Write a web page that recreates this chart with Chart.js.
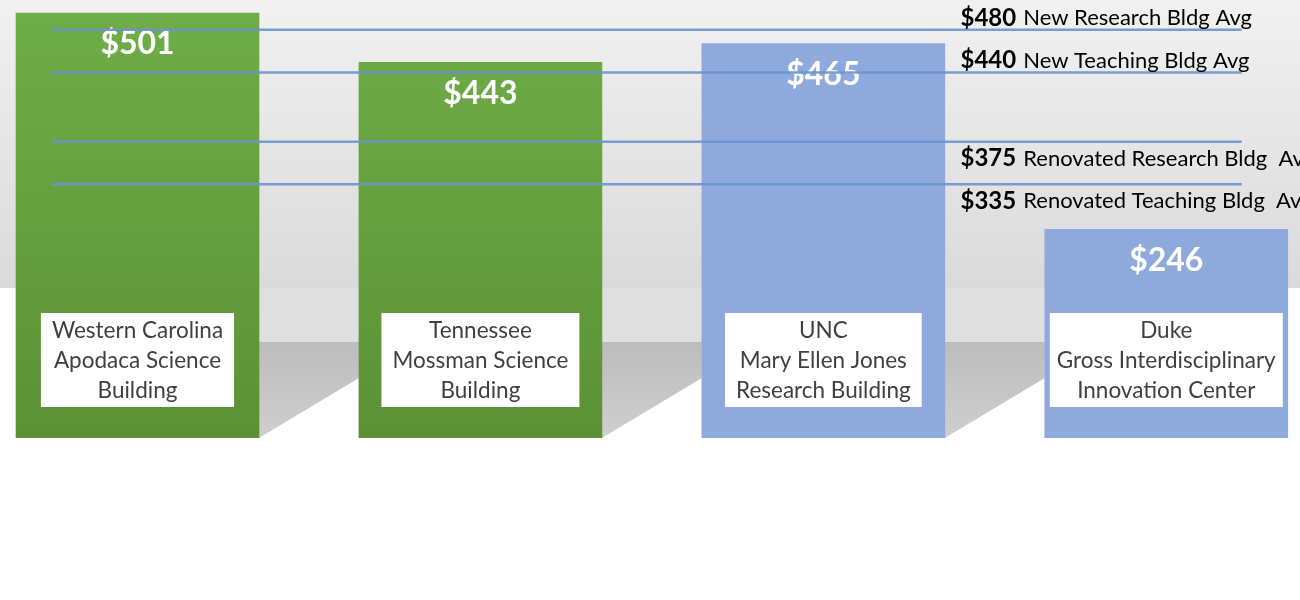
<!DOCTYPE html>
<html>
<head>
<meta charset="utf-8">
<script src="https://cdn.jsdelivr.net/npm/chart.js@4.4.1/dist/chart.umd.min.js"></script>
<style>
  html, body { margin: 0; padding: 0; background: #fff; }
  #wrap { width: 1300px; height: 600px; }
</style>
</head>
<body>
<div id="wrap"><canvas id="chart"></canvas></div>
<script>
  // building cost per sq ft
  const buildings = [
    ['Western Carolina', 'Apodaca Science', 'Building'],
    ['Tennessee', 'Mossman Science', 'Building'],
    ['UNC', 'Mary Ellen Jones', 'Research Building'],
    ['Duke', 'Gross Interdisciplinary', 'Innovation Center']
  ];
  const costPerSqFt = [501, 443, 465, 246];

  // benchmark averages
  const avgNames = ['New Research Bldg Avg', 'New Teaching Bldg Avg', 'Renovated Research Bldg  Avg', 'Renovated Teaching Bldg  Avg'];
  const avgValues = [480, 440, 375, 335];

  const FONT = 'Lato, "Open Sans", sans-serif';

  function barFill(ctx) {
    const chart = ctx.chart;
    const area = chart.chartArea;
    if (ctx.dataIndex >= 2) return '#8eaadc';
    if (!area) return '#66a140';
    const g = chart.ctx.createLinearGradient(0, area.top, 0, area.bottom);
    g.addColorStop(0, '#6fae47');
    g.addColorStop(1, '#5c9136');
    return g;
  }

  // grey wall + drop shadows behind the bars
  const backdrop = {
    id: 'backdrop',
    beforeDraw(chart) {
      const c = chart.ctx;
      const base = chart.scales.y.getPixelForValue(0);
      const wallBottom = base - 150;
      const shadowTop = base - 96;
      c.save();
      c.fillStyle = '#fff';
      c.fillRect(0, 0, chart.width, chart.height);
      const g = c.createLinearGradient(0, 0, 0, wallBottom);
      g.addColorStop(0, '#f1f1f1');
      g.addColorStop(1, '#dadada');
      c.fillStyle = g;
      c.fillRect(0, 0, chart.width, wallBottom);
      const bars = chart.getDatasetMeta(0).data;
      for (let i = 0; i < bars.length - 1; i++) {
        const l = bars[i].x + bars[i].width / 2;
        const r = bars[i + 1].x - bars[i + 1].width / 2;
        c.fillStyle = '#dfdfdf';
        c.fillRect(l, wallBottom, r - l, shadowTop - wallBottom);
        const sg = c.createLinearGradient(0, shadowTop, 0, base);
        sg.addColorStop(0, '#bcbcbc');
        sg.addColorStop(1, '#cfcfcf');
        c.fillStyle = sg;
        c.beginPath();
        c.moveTo(l, shadowTop);
        c.lineTo(r, shadowTop);
        c.lineTo(r, base - 60);
        c.lineTo(l, base);
        c.closePath();
        c.fill();
      }
      c.restore();
    }
  };

  // value + name boxes on the bars, drawn before the average lines
  const barLabels = {
    id: 'barLabels',
    afterDatasetDraw(chart, args) {
      if (args.index !== 0) return;
      const c = chart.ctx;
      const base = chart.scales.y.getPixelForValue(0);
      args.meta.data.forEach((bar, i) => {
        c.save();
        c.textAlign = 'center';
        c.textBaseline = 'middle';
        c.font = 'bold 32px ' + FONT;
        c.fillStyle = '#fff';
        c.fillText('$' + costPerSqFt[i], bar.x, bar.y + 31);

        c.font = '22.5px ' + FONT;
        const lines = buildings[i];
        const w = Math.min(Math.max(...lines.map(t => c.measureText(t).width)) + 22, bar.width - 10);
        const h = 94;
        const bottom = base - 31;
        c.fillStyle = '#fff';
        c.fillRect(bar.x - w / 2, bottom - h, w, h);
        c.fillStyle = '#404040';
        lines.forEach((t, k) => c.fillText(t, bar.x, bottom - h + 18 + k * 30));
        c.restore();
      });
    }
  };

  const avgLabels = {
    id: 'avgLabels',
    afterDraw(chart) {
      const c = chart.ctx;
      const x = chart.scales.x.getPixelForValue(2.4);
      c.save();
      c.textBaseline = 'middle';
      c.fillStyle = '#000';
      avgValues.forEach((v, k) => {
        const y = chart.scales.y2.getPixelForValue(v) + (k < 2 ? -12 : 17);
        c.font = 'bold 24px ' + FONT;
        const money = '$' + v;
        c.fillText(money, x, y);
        const mw = c.measureText(money).width;
        c.font = '22px ' + FONT;
        c.fillText(avgNames[k], x + mw + 7, y);
      });
      c.restore();
    }
  };

  const avgDatasets = avgValues.map(v => ({
    type: 'line',
    yAxisID: 'y2',
    data: [{ x: -0.25, y: v }, { x: 3.22, y: v }],
    borderColor: 'rgba(105, 148, 205, 0.9)',
    borderWidth: 2.5,
    pointRadius: 0,
    order: 0
  }));

  new Chart(document.getElementById('chart').getContext('2d'), {
    type: 'bar',
    data: {
      datasets: [{
        data: costPerSqFt.map((v, i) => ({ x: i, y: v })),
        backgroundColor: barFill,
        barThickness: 243,
        borderWidth: 0,
        order: 1
      }].concat(avgDatasets)
    },
    options: {
      responsive: true,
      maintainAspectRatio: false,
      animation: false,
      layout: { padding: { top: 0, left: 0, right: 0, bottom: 162 } },
      plugins: { legend: { display: false }, tooltip: { enabled: false } },
      scales: {
        x: { type: 'linear', min: -0.401, max: 3.39, offset: false, display: false },
        y: { min: 0, max: 516.5, display: false },
        y2: { min: 97, max: 508, display: false }
      }
    },
    plugins: [backdrop, barLabels, avgLabels]
  });
</script>
</body>
</html>
